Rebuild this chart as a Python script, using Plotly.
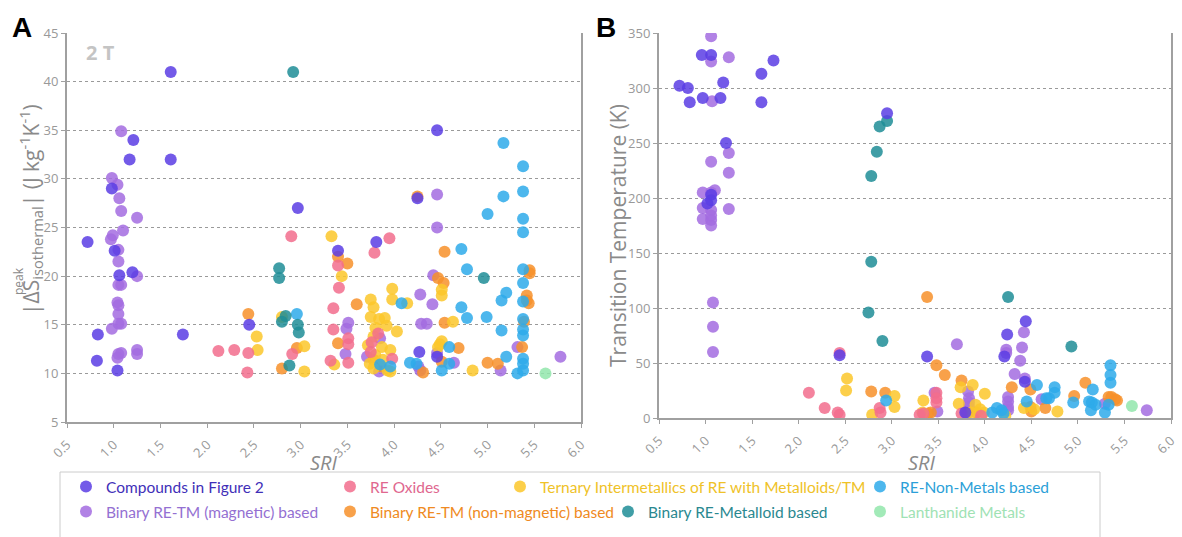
import plotly.graph_objects as go

# ---------------- data: SRI vs |dS| (panel A) and SRI vs transition temperature (panel B)
categories = [
    "Compounds in Figure 2", "RE Oxides",
    "Ternary Intermetallics of RE with Metalloids/TM", "RE-Non-Metals based",
    "Binary RE-TM (magnetic) based", "Binary RE-TM (non-magnetic) based",
    "Binary RE-Metalloid based", "Lanthanide Metals",
]

# Compounds in Figure 2
cmp_a_x = [0.72, 0.83, 0.82, 0.98, 1.01, 1.06, 1.04, 1.20, 1.17, 1.21, 1.61, 1.61, 1.74, 2.45, 2.97, 3.40, 3.81, 4.25, 4.46, 4.27, 4.46]
cmp_a_y = [23.5, 14.0, 11.3, 29.0, 22.6, 20.1, 10.3, 20.4, 32.0, 34.0, 41.0, 32.0, 14.0, 15.0, 27.0, 22.6, 23.5, 28.0, 35.0, 12.2, 11.7]
cmp_b_x = [0.96, 1.06, 1.73, 1.60, 0.72, 0.81, 1.19, 0.83, 0.97, 1.16, 1.60, 1.22, 1.06, 1.06, 1.02, 2.44, 2.95, 3.38, 4.44, 4.24, 4.21, 4.43, 3.79]
cmp_b_y = [330, 330, 325, 313, 302, 300, 305, 287, 291, 291, 287, 250, 203, 198, 195, 57, 277, 56, 88, 76, 56, 33, 5]

# RE Oxides
oxi_a_x = [2.12, 2.29, 2.44, 2.43, 2.90, 2.91, 3.95, 3.79, 3.40, 3.41, 3.35, 3.35, 3.51, 3.51, 3.32, 3.51, 3.83, 3.76, 3.98, 3.75]
oxi_a_y = [12.3, 12.4, 12.1, 10.1, 24.1, 12.0, 23.9, 22.4, 21.1, 18.8, 16.7, 14.5, 13.6, 13.0, 11.3, 11.1, 14.1, 13.2, 11.5, 12.2]
oxi_b_x = [2.44, 2.11, 2.28, 2.42, 2.44, 2.87, 2.88, 3.30, 3.34, 3.48, 3.48, 3.48, 3.75, 3.96]
oxi_b_y = [59, 23, 9, 5, 3, 9, 5, 3, 4, 23, 18, 14, 4, 2]

# Ternary intermetallics
ter_a_x = [2.53, 2.54, 2.80, 3.04, 3.04, 3.33, 3.44, 3.36, 3.75, 3.78, 3.98, 3.98, 4.14, 4.51, 4.51, 4.49, 4.63, 4.84,
           3.75, 3.84, 3.90, 3.80, 3.92, 3.78, 4.03, 3.72, 3.87, 3.96, 3.80, 3.88, 3.74, 3.93, 3.96, 3.78, 4.51, 4.47]
ter_a_y = [13.8, 12.4, 15.8, 12.8, 10.2, 24.1, 20.0, 10.9, 17.6, 16.8, 18.7, 17.6, 17.2, 18.6, 18.0, 13.0, 15.3, 10.3,
           15.8, 15.6, 15.7, 14.7, 14.9, 13.8, 14.3, 12.9, 12.7, 12.4, 11.9, 11.4, 11.0, 10.3, 10.2, 10.5, 13.3, 12.7]
ter_b_x = [2.52, 2.51, 2.79, 3.03, 3.03, 3.34, 3.33, 3.87, 3.74, 4.00, 3.72, 3.90, 3.85, 3.99, 4.22, 4.42, 4.53, 4.78, 3.95]
ter_b_y = [36, 25, 3, 20, 10, 16, 5, 30, 28, 22, 13, 12, 5, 5, 2, 9, 8, 6, 8]

# RE-Non-Metals based
nm_a_x = [2.96, 4.08, 3.85, 3.96, 4.17, 4.24, 4.51, 4.59, 4.59, 5.17, 5.38, 5.17, 5.38, 5.00, 5.38, 5.38, 4.72, 4.78,
          5.38, 5.38, 5.20, 5.15, 5.38, 4.72, 4.78, 4.99, 5.38, 5.38, 5.38, 5.15, 5.20, 5.38, 5.38, 5.38, 5.32]
nm_a_y = [16.1, 17.2, 10.9, 10.7, 11.1, 11.0, 10.3, 12.7, 11.0, 33.7, 31.3, 28.2, 28.7, 26.4, 25.9, 24.5, 22.8, 20.7,
          20.7, 19.3, 18.3, 17.5, 17.4, 16.8, 15.7, 15.8, 15.6, 14.5, 13.9, 14.4, 11.7, 11.5, 11.0, 10.3, 10.0]
nm_b_x = [2.94, 4.08, 4.13, 4.18, 4.20, 4.45, 4.56, 4.75, 4.75, 4.69, 4.66, 5.16, 4.95, 5.12, 5.15, 5.19, 5.14, 5.35, 5.35, 5.35, 5.33, 5.29]
nm_b_y = [16, 5, 9, 7, 4, 15, 30, 28, 23, 18, 18, 26, 14, 15, 14, 12, 7, 48, 39, 32, 12, 5]

# Binary RE-TM (magnetic)
mag_a_x = [1.08, 0.98, 1.04, 1.06, 1.08, 1.25, 1.10, 0.97, 0.99, 1.05, 1.05, 1.25, 1.05, 1.08, 1.04, 1.05, 1.05, 1.05, 1.08, 0.98,
           1.05, 1.08, 1.04, 1.25, 1.25, 4.46, 4.46, 4.42, 4.41, 4.28, 4.29, 4.35, 3.51, 3.49, 3.48, 3.85, 3.71, 3.84,
           4.26, 4.28, 4.46, 4.64, 5.32, 5.14, 5.78]
mag_a_y = [34.9, 30.1, 29.4, 28.0, 26.7, 26.0, 24.7, 23.8, 24.2, 22.7, 21.5, 20.0, 19.1, 19.1, 17.3, 17.0, 16.1, 15.1, 15.1, 14.6,
           12.0, 12.1, 11.6, 12.4, 12.0, 28.4, 25.0, 20.1, 17.1, 18.1, 15.1, 15.1, 15.2, 14.6, 12.0, 13.6, 11.7, 10.2,
           10.7, 10.3, 12.1, 11.1, 12.7, 10.3, 11.7]
mag_b_x = [1.06, 1.06, 1.25, 1.07, 1.25, 1.06, 1.25, 0.97, 1.06, 1.10, 0.97, 1.06, 1.25, 0.97, 1.06, 1.06, 1.06, 1.08, 1.08, 1.08,
           3.70, 4.42, 4.40, 4.23, 4.23, 4.38, 4.32, 4.43, 3.46, 3.49, 3.82, 3.83, 3.83, 3.83, 4.25, 4.25, 4.25, 4.25, 4.61, 5.29, 5.74, 3.81]
mag_b_y = [347, 324, 328, 288, 241, 233, 223, 205, 205, 207, 191, 189, 190, 181, 180, 175, 184, 105, 83, 60,
           67, 78, 64, 62, 59, 52, 40, 36, 23, 6, 24, 18, 14, 10, 19, 15, 10, 7, 17, 13, 7, 4]

# Binary RE-TM (non-magnetic)
non_a_x = [2.44, 2.80, 2.96, 3.40, 3.50, 3.40, 3.60, 4.54, 4.25, 4.47, 4.53, 4.54, 4.69, 4.51, 4.31, 5.45, 5.45, 5.42, 5.42, 5.44,
           5.39, 5.37, 5.00, 5.11, 3.78, 3.86]
non_a_y = [16.1, 10.5, 12.6, 22.0, 21.3, 13.1, 17.1, 22.5, 28.2, 19.8, 19.3, 15.2, 12.6, 11.2, 10.1, 20.6, 20.3, 18.0, 17.5, 17.2,
           15.3, 12.7, 11.1, 11.0, 11.4, 10.7]
non_b_x = [2.78, 2.93, 3.38, 3.48, 3.57, 3.42, 3.75, 3.91, 4.29, 4.49, 4.49, 4.65, 4.96, 5.08, 5.33, 5.36, 5.40, 5.42, 4.50, 3.39]
non_b_y = [24, 23, 110, 48, 39, 5, 34, 5, 28, 26, 10, 9, 20, 32, 19, 19, 17, 16, 6, 4]

# Binary RE-Metalloid based
mtl_a_x = [2.92, 2.77, 2.77, 2.84, 2.80, 2.97, 2.98, 2.88, 4.96]
mtl_a_y = [41.0, 20.8, 19.8, 15.9, 15.3, 15.0, 14.2, 10.8, 19.8]
mtl_b_x = [2.78, 2.75, 2.90, 2.95, 2.87, 2.84, 2.78, 4.25, 4.93]
mtl_b_y = [142, 96, 70, 270, 265, 242, 220, 110, 65]

# Lanthanide metals
lan_a_x = [5.62]
lan_a_y = [10.0]
lan_b_x = [5.58]
lan_b_y = [11]

x_ticks = [0.5, 1.0, 1.5, 2.0, 2.5, 3.0, 3.5, 4.0, 4.5, 5.0, 5.5, 6.0]
ya_ticks = [5, 10, 15, 20, 25, 30, 35, 40, 45]
yb_ticks = [0, 50, 100, 150, 200, 250, 300, 350]

# ---------------- styling
W, H = 1182, 537
colors = {
    "Compounds in Figure 2": "#5a3de4",
    "RE Oxides": "#f26d8d",
    "Ternary Intermetallics of RE with Metalloids/TM": "#fbc72a",
    "RE-Non-Metals based": "#2eaaea",
    "Binary RE-TM (magnetic) based": "#a36ce0",
    "Binary RE-TM (non-magnetic) based": "#f7902a",
    "Binary RE-Metalloid based": "#1f8d97",
    "Lanthanide Metals": "#92e6ab",
}
text_colors = {
    "Compounds in Figure 2": "#3f2fb8",
    "RE Oxides": "#e0678f",
    "Ternary Intermetallics of RE with Metalloids/TM": "#efc227",
    "RE-Non-Metals based": "#2b9fd8",
    "Binary RE-TM (magnetic) based": "#9470d2",
    "Binary RE-TM (non-magnetic) based": "#ef8a22",
    "Binary RE-Metalloid based": "#2a8890",
    "Lanthanide Metals": "#9fe2b4",
}

# category -> (panel A x, panel A y, panel B x, panel B y, legend, rank, entry width)
series = {
    "Binary RE-TM (magnetic) based": (mag_a_x, mag_a_y, mag_b_x, mag_b_y, "legend2", 1, 219),
    "Binary RE-TM (non-magnetic) based": (non_a_x, non_a_y, non_b_x, non_b_y, "legend2", 2, 233),
    "Ternary Intermetallics of RE with Metalloids/TM": (ter_a_x, ter_a_y, ter_b_x, ter_b_y, "legend", 3, 315),
    "RE Oxides": (oxi_a_x, oxi_a_y, oxi_b_x, oxi_b_y, "legend", 2, 125),
    "RE-Non-Metals based": (nm_a_x, nm_a_y, nm_b_x, nm_b_y, "legend", 4, 170),
    "Binary RE-Metalloid based": (mtl_a_x, mtl_a_y, mtl_b_x, mtl_b_y, "legend2", 3, 207),
    "Lanthanide Metals": (lan_a_x, lan_a_y, lan_b_x, lan_b_y, "legend2", 4, 170),
    "Compounds in Figure 2": (cmp_a_x, cmp_a_y, cmp_b_x, cmp_b_y, "legend", 1, 219),
}

fig = go.Figure()
for name, (ax, ay, bx, by, leg, rank, ew) in series.items():
    label = f'<span style="color:{text_colors[name]}">{name}</span>'
    mk = dict(color=colors[name], size=12, opacity=0.85, line=dict(width=0))
    fig.add_trace(go.Scatter(x=ax, y=ay, mode="markers", name=label, marker=mk,
                             legendgroup=name, legend=leg, legendrank=rank,
                             legendwidth=ew, xaxis="x", yaxis="y", hoverinfo="x+y"))
    fig.add_trace(go.Scatter(x=bx, y=by, mode="markers", name=label, marker=mk,
                             legendgroup=name, showlegend=False,
                             xaxis="x2", yaxis="y2", hoverinfo="x+y"))

grey = "#8a8a8a"
tick_grey = "#999999"
axis_common = dict(
    showline=True, linecolor="#a0a0a0", linewidth=2,
    ticks="outside", ticklen=4, tickcolor="#a0a0a0", tickwidth=1,
    tickfont=dict(family="Open Sans", size=13, color=tick_grey),
    zeroline=False,
)

def px_x(p):
    return p / W

def px_y(p):
    return 1 - p / H

legend_font = dict(family="Lato", size=15.5)

fig.update_layout(
    width=W, height=H,
    margin=dict(l=0, r=0, t=0, b=0, autoexpand=False),
    paper_bgcolor="white", plot_bgcolor="white",
    font=dict(family="Open Sans", color=grey),
    xaxis=dict(domain=[px_x(67), px_x(581)], range=[0.5, 6.0], tickvals=x_ticks,
               tickformat=".1f", tickangle=-45, ticklabelstandoff=4,
               showgrid=False, anchor="y", **axis_common),
    yaxis=dict(domain=[px_y(422), px_y(33)], range=[5, 45], tickvals=ya_ticks,
               showgrid=True, gridcolor="#9a9a9a", griddash="dot", gridwidth=1,
               mirror=True, anchor="x", **axis_common),
    xaxis2=dict(domain=[px_x(659), px_x(1171)], range=[0.5, 6.0], tickvals=x_ticks,
                tickformat=".1f", tickangle=-45, ticklabelstandoff=4,
                showgrid=False, anchor="y2", **axis_common),
    yaxis2=dict(domain=[px_y(418), px_y(33)], range=[0, 350], tickvals=yb_ticks,
                showgrid=True, gridcolor="#9a9a9a", griddash="dot", gridwidth=1,
                mirror=True, anchor="x2", **axis_common),
    legend=dict(orientation="h", x=px_x(66), xanchor="left", y=px_y(487), yanchor="middle",
                bgcolor="rgba(0,0,0,0)", borderwidth=0, itemwidth=30, font=legend_font),
    legend2=dict(orientation="h", x=px_x(66), xanchor="left", y=px_y(512), yanchor="middle",
                 bgcolor="rgba(0,0,0,0)", borderwidth=0, itemwidth=30, font=legend_font),
    showlegend=True,
)

# legend frame
fig.add_shape(type="rect", xref="paper", yref="paper",
              x0=px_x(60), x1=px_x(1100), y0=px_y(560), y1=px_y(472),
              line=dict(color="#cccccc", width=1), fillcolor="white", layer="below")

annotations = [
    dict(text="<b>A</b>", x=px_x(22), y=px_y(27), font=dict(family="Arial", size=28, color="black")),
    dict(text="<b>B</b>", x=px_x(606), y=px_y(27), font=dict(family="Arial", size=28, color="black")),
    dict(text="<b>2 T</b>", x=px_x(100), y=px_y(52), font=dict(family="Open Sans", size=20, color="#c4c4c4")),
    dict(text="|ΔS<sub>isothermal</sub>| (J kg<sup>-1</sup>K<sup>-1</sup>)", x=px_x(31), y=px_y(210),
         textangle=-90, font=dict(family="Open Sans", size=21, color=grey)),
    dict(text="peak", x=px_x(18), y=px_y(281), textangle=-90,
         font=dict(family="Open Sans", size=12, color=grey)),
    dict(text="Transition Temperature (K)", x=px_x(618), y=px_y(236), textangle=-90,
         font=dict(family="Open Sans", size=21, color=grey)),
    dict(text="<i>SRI</i>", x=px_x(324), y=px_y(462), font=dict(family="Open Sans", size=20, color=grey)),
    dict(text="<i>SRI</i>", x=px_x(922), y=px_y(462), font=dict(family="Open Sans", size=20, color=grey)),
]
for a in annotations:
    fig.add_annotation(xref="paper", yref="paper", showarrow=False,
                       xanchor="center", yanchor="middle", **a)

fig.write_html("out.html")
